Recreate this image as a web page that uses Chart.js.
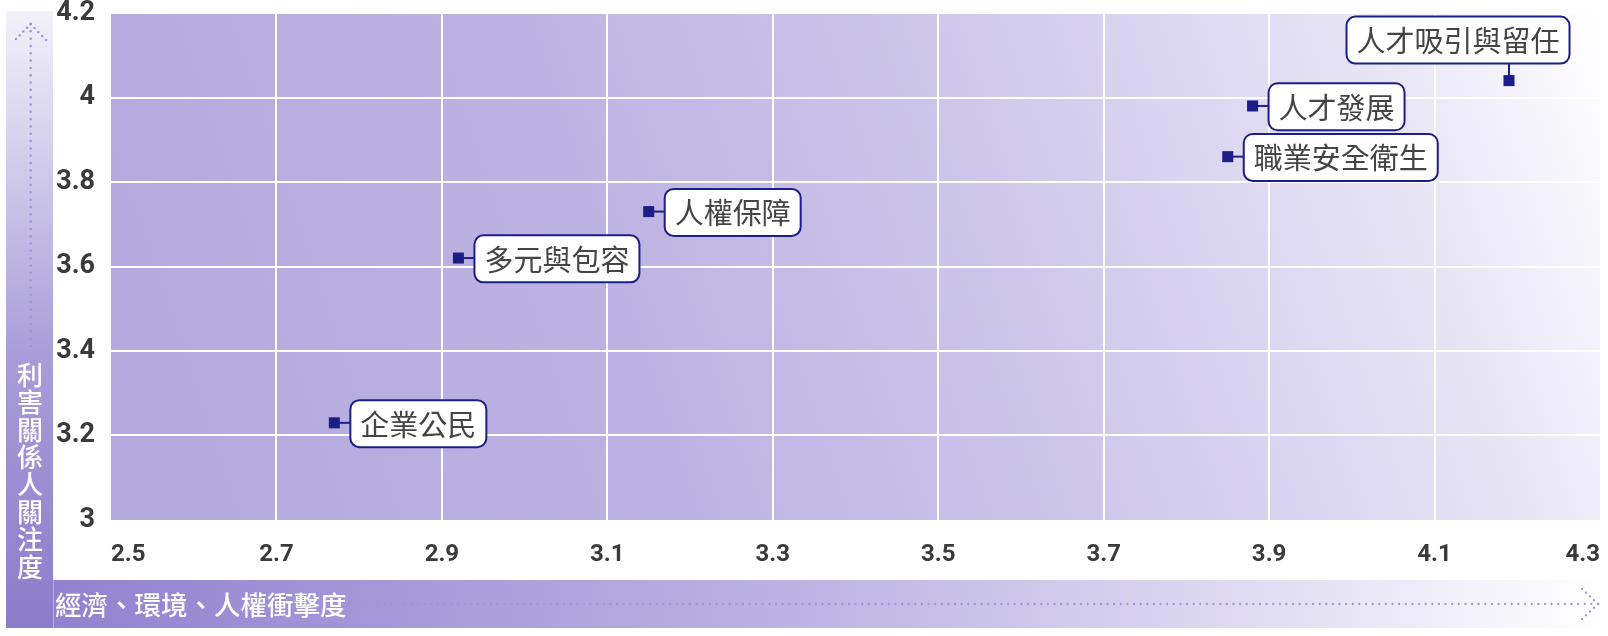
<!DOCTYPE html>
<html>
<head>
<meta charset="utf-8">
<script src="https://cdn.jsdelivr.net/npm/chart.js@4.4.1/dist/chart.umd.min.js"></script>
<style>
  html, body { margin: 0; padding: 0; background: #ffffff; }
  #wrap { width: 1608px; height: 636px; position: relative; }
</style>
</head>
<body>
<div id="wrap"><canvas id="c" width="1608" height="636"></canvas></div>
<script>
// ---- data ----
const topics = ['人才吸引與留任', '人才發展', '職業安全衛生', '人權保障', '多元與包容', '企業公民'];
const impactScores = [4.19, 3.88, 3.85, 3.15, 2.92, 2.77];
const concernScores = [4.04, 3.98, 3.86, 3.73, 3.62, 3.23];
const xTicks = [2.5, 2.7, 2.9, 3.1, 3.3, 3.5, 3.7, 3.9, 4.1, 4.3];
const yTicks = [3, 3.2, 3.4, 3.6, 3.8, 4, 4.2];
const xTitle = '經濟、環境、人權衝擊度';
const yTitle = '利害關係人關注度';

// ---- label placement (style only) ----
const labelPlacement = [
  { side: 'top', gap: 17, shift: -51 },
  { side: 'right', gap: 16 },
  { side: 'right', gap: 16 },
  { side: 'right', gap: 16 },
  { side: 'right', gap: 16 },
  { side: 'right', gap: 16 }
];

const NAVY = '#1b1e87';
const CJK = '"Noto Sans CJK TC", "Noto Sans", sans-serif';

function dotLine(ctx, x1, y1, x2, y2, step, r) {
  const len = Math.hypot(x2 - x1, y2 - y1);
  const n = Math.floor(len / step);
  for (let i = 0; i <= n; i++) {
    const t = n === 0 ? 0 : i / n;
    ctx.beginPath();
    ctx.arc(x1 + (x2 - x1) * t, y1 + (y2 - y1) * t, r, 0, Math.PI * 2);
    ctx.fill();
  }
}

const decorPlugin = {
  id: 'decor',
  beforeDraw(chart) {
    const ctx = chart.ctx;
    const a = chart.chartArea;
    ctx.save();
    // plot background gradient
    const g = ctx.createLinearGradient(a.left, a.bottom, a.right, a.top);
    g.addColorStop(0, '#b3a8dd');
    g.addColorStop(0.35, '#bdb3e2');
    g.addColorStop(0.6, '#cec7eb');
    g.addColorStop(0.85, '#e7e4f5');
    g.addColorStop(1, '#ffffff');
    ctx.fillStyle = g;
    ctx.fillRect(a.left, a.top, a.right - a.left, a.bottom - a.top);

    // y title strip
    const ys = { x: 6, y: 11, w: 47, h: 617 };
    const gy = ctx.createLinearGradient(0, ys.y, 0, ys.y + ys.h);
    gy.addColorStop(0, '#f3f1fa');
    gy.addColorStop(0.55, '#a99ed9');
    gy.addColorStop(1, '#8b7cca');
    ctx.fillStyle = gy;
    ctx.fillRect(ys.x, ys.y, ys.w, ys.h);

    // x title strip
    const xs = { x: 53, y: 580, w: 1547, h: 48 };
    const gx = ctx.createLinearGradient(xs.x, 0, xs.x + xs.w, 0);
    gx.addColorStop(0, '#9182cf');
    gx.addColorStop(0.5, '#beb5e4');
    gx.addColorStop(0.8, '#e3dff3');
    gx.addColorStop(1, '#ffffff');
    ctx.fillStyle = gx;
    ctx.fillRect(xs.x, xs.y, xs.w, xs.h);
    ctx.fillStyle = 'rgba(255,255,255,0.35)';
    ctx.fillRect(53, 580, 1, 48);

    // y title text (vertical)
    ctx.fillStyle = '#ffffff';
    ctx.font = '500 26px ' + CJK;
    ctx.textAlign = 'center';
    ctx.textBaseline = 'middle';
    const chars = Array.from(yTitle);
    chars.forEach((ch, i) => ctx.fillText(ch, 30, 375 + i * 27.4));

    // x title text
    ctx.font = '500 26.5px ' + CJK;
    ctx.textAlign = 'left';
    ctx.fillText(xTitle, 55, 605);
    const xtw = ctx.measureText(xTitle).width;

    // dotted arrows
    ctx.fillStyle = '#9f94da';
    dotLine(ctx, 30.7, 346, 30.7, 24, 7.2, 1.25);
    dotLine(ctx, 30.7, 24, 16, 39, 5.2, 1.25);
    dotLine(ctx, 30.7, 24, 46, 40, 5.2, 1.25);

    dotLine(ctx, 55 + xtw + 12, 604, 1598, 604, 6.6, 1.15);
    dotLine(ctx, 1598, 604, 1582, 589, 5.2, 1.15);
    dotLine(ctx, 1598, 604, 1582, 619, 5.2, 1.15);
    ctx.restore();
  },
  afterDatasetsDraw(chart) {
    const ctx = chart.ctx;
    const meta = chart.getDatasetMeta(0);
    ctx.save();
    ctx.font = '400 29px ' + CJK;
    meta.data.forEach((pt, i) => {
      const text = topics[i];
      const pl = labelPlacement[i];
      const tw = ctx.measureText(text).width;
      const bw = tw + 20, bh = 47;
      let bx, by;
      ctx.strokeStyle = NAVY;
      ctx.lineWidth = 2;
      ctx.beginPath();
      if (pl.side === 'top') {
        bx = pt.x + pl.shift - bw / 2;
        by = pt.y - pl.gap - bh;
        ctx.moveTo(pt.x, pt.y);
        ctx.lineTo(pt.x, by + bh);
      } else {
        bx = pt.x + pl.gap;
        by = pt.y - bh / 2 + 0.8;
        ctx.moveTo(pt.x, pt.y);
        ctx.lineTo(bx, pt.y);
      }
      ctx.stroke();
      // box
      ctx.beginPath();
      ctx.roundRect(bx, by, bw, bh, 9);
      ctx.fillStyle = '#ffffff';
      ctx.fill();
      ctx.lineWidth = 2;
      ctx.strokeStyle = NAVY;
      ctx.stroke();
      // text
      ctx.fillStyle = '#444444';
      ctx.textAlign = 'center';
      ctx.textBaseline = 'middle';
      ctx.fillText(text, bx + bw / 2, by + bh / 2 + 1);
    });
    ctx.restore();
  }
};

const points = topics.map((t, i) => ({ x: impactScores[i], y: concernScores[i] }));

new Chart(document.getElementById('c'), {
  type: 'scatter',
  data: {
    datasets: [{
      label: '議題',
      data: points,
      pointStyle: 'rect',
      pointRadius: 7.8,
      pointHoverRadius: 7.8,
      borderWidth: 0,
      backgroundColor: NAVY
    }]
  },
  options: {
    responsive: false,
    animation: false,
    events: [],
    layout: { padding: { top: 13, right: 8, bottom: 0, left: 0 } },
    plugins: { legend: { display: false }, tooltip: { enabled: false } },
    scales: {
      x: {
        type: 'linear',
        min: xTicks[0],
        max: xTicks[xTicks.length - 1],
        afterBuildTicks: s => { s.ticks = xTicks.map(v => ({ value: v })); },
        afterFit: s => { s.height = 116; s.paddingLeft = 0; s.paddingRight = 0; },
        border: { display: false },
        grid: {
          color: c => (c.index === 0 || c.index === xTicks.length - 1) ? 'rgba(0,0,0,0)' : '#ffffff',
          lineWidth: 2,
          drawTicks: true,
          tickLength: 21,
          tickColor: 'rgba(0,0,0,0)'
        },
        ticks: {
          align: 'inner',
          padding: 0,
          color: '#3a3a3a',
          font: { family: 'Roboto', size: 24, weight: 'bold', lineHeight: 1.2 },
          maxRotation: 0,
          autoSkip: false,
          callback: v => String(+(+v).toFixed(1))
        }
      },
      y: {
        type: 'linear',
        min: yTicks[0],
        max: yTicks[yTicks.length - 1],
        afterBuildTicks: s => { s.ticks = yTicks.map(v => ({ value: v })); },
        afterFit: s => { s.width = 111; s.paddingTop = 0; s.paddingBottom = 0; },
        border: { display: false },
        grid: {
          color: c => (c.index === 0) ? 'rgba(0,0,0,0)' : '#ffffff',
          lineWidth: 2,
          drawTicks: false
        },
        ticks: {
          padding: 16,
          color: '#3a3a3a',
          font: { family: 'Roboto', size: 27, weight: 'bold', lineHeight: 1.2 },
          autoSkip: false,
          callback: v => String(+(+v).toFixed(1))
        }
      }
    }
  },
  plugins: [decorPlugin]
});
</script>
</body>
</html>
